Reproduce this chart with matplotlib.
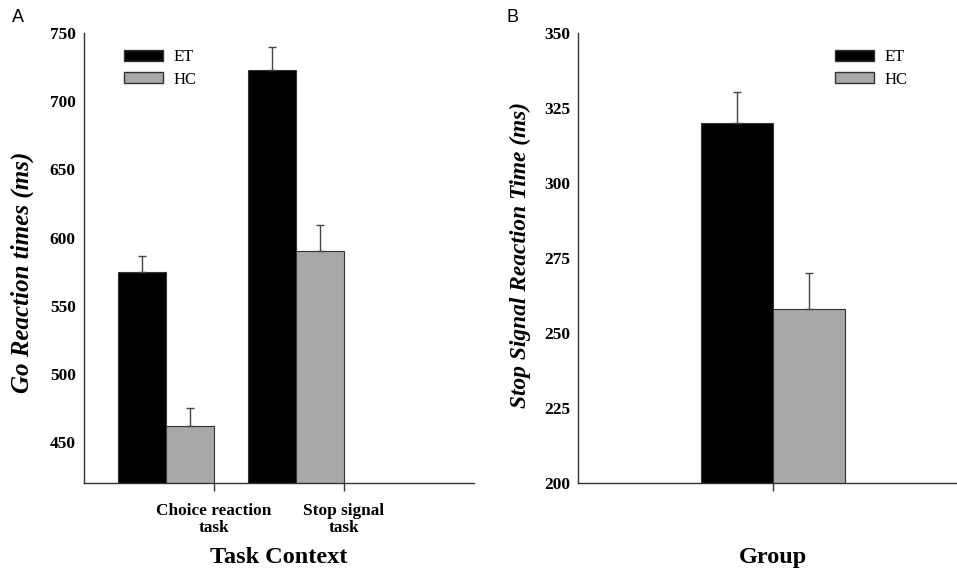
import matplotlib
matplotlib.use('Agg')
import matplotlib.pyplot as plt
from matplotlib.patches import Patch
import numpy as np

# panel A data
tasks = ['Choice reaction\ntask', 'Stop signal\ntask']
go_et = [575, 723]
go_et_err = [11.5, 16.5]
go_hc = [461.5, 590.5]
go_hc_err = [13.5, 19]

# panel B data
ssrt_et = [320]
ssrt_et_err = [10.5]
ssrt_hc = [258]
ssrt_hc_err = [12]

ET_COLOR = 'black'
HC_COLOR = '#a8a8a8'
EDGE = '#333333'
SERIF = 'Liberation Serif'
W = 0.369

fig = plt.figure(figsize=(9.57, 5.72), dpi=100)
axA = fig.add_axes([84/957, 1-483/572, 390/957, 450/572])
axB = fig.add_axes([578.3/957, 1-483/572, 390/957, 450/572])


def draw(ax, et, et_err, hc, hc_err, off):
    # off = where the ET bar starts, relative to the category tick
    x = np.arange(1, len(et) + 1)
    ax.bar(x + off, et, W, align='edge', color=ET_COLOR, edgecolor=EDGE, linewidth=0.8)
    ax.bar(x + off + W, hc, W, align='edge', color=HC_COLOR, edgecolor=EDGE, linewidth=0.8)
    ax.errorbar(x + off + 0.5*W, et, yerr=[np.zeros(len(et)), et_err], fmt='none',
                ecolor='#444444', elinewidth=1, capsize=3.2, capthick=1)
    ax.errorbar(x + off + 1.5*W, hc, yerr=[np.zeros(len(hc)), hc_err], fmt='none',
                ecolor='#444444', elinewidth=1, capsize=3.2, capthick=1)
    for s in ['top', 'right']:
        ax.spines[s].set_visible(False)
    for s in ['left', 'bottom']:
        ax.spines[s].set_color('#333333')
        ax.spines[s].set_linewidth(1)
    ax.tick_params(axis='y', length=0, pad=6)
    ax.tick_params(axis='x', length=5.5, width=1, color='#333333', direction='out', pad=9)
    return x


def style_yticks(ax):
    for lab in ax.get_yticklabels():
        lab.set_fontfamily(SERIF)
        lab.set_fontweight('bold')
        lab.set_fontsize(12.5)


xa = draw(axA, go_et, go_et_err, go_hc, go_hc_err, -2*W)
axA.set_xlim(0, 3)
axA.set_ylim(420, 750)
axA.set_yticks([450, 500, 550, 600, 650, 700, 750])
axA.set_xticks(xa)
axA.set_xticklabels(tasks, fontfamily=SERIF, fontweight='bold', fontsize=12.4, linespacing=1.1)
style_yticks(axA)
axA.set_ylabel('Go Reaction times (ms)', fontfamily=SERIF, fontweight='bold',
               fontstyle='italic', fontsize=18)
axA.yaxis.set_label_coords(-0.128, 0.469)
axA.set_xlabel('Task Context', fontfamily=SERIF, fontweight='bold', fontsize=17.5)
axA.xaxis.set_label_coords(0.5, -0.143)

xb = draw(axB, ssrt_et, ssrt_et_err, ssrt_hc, ssrt_hc_err, -W)
axB.set_xlim(0, 2)
axB.set_ylim(200, 350)
axB.set_yticks([200, 225, 250, 275, 300, 325, 350])
axB.set_xticks(xb)
axB.set_xticklabels([''])
style_yticks(axB)
axB.set_ylabel('Stop Signal Reaction Time (ms)', fontfamily=SERIF, fontweight='bold',
               fontstyle='italic', fontsize=16.8)
axB.yaxis.set_label_coords(-0.122, 0.506)
axB.set_xlabel('Group', fontfamily=SERIF, fontweight='bold', fontsize=17.5)
axB.xaxis.set_label_coords(0.5, -0.143)

handles = [Patch(facecolor=ET_COLOR, edgecolor=EDGE, label='ET'),
           Patch(facecolor=HC_COLOR, edgecolor=EDGE, label='HC')]
for ax, xl in [(axA, 124), (axB, 835)]:
    ax.legend(handles=handles, loc='upper left', bbox_to_anchor=(xl/957, 1-49/572),
              bbox_transform=fig.transFigure, frameon=False, borderpad=0, borderaxespad=0,
              handlelength=2.35, handleheight=0.66, handletextpad=0.6, labelspacing=0.4,
              prop={'family': SERIF, 'size': 12})

fig.text(12/957, 1-18/572, 'A', fontfamily='Liberation Sans', fontsize=13, va='center', ha='left')
fig.text(507/957, 1-18/572, 'B', fontfamily='Liberation Sans', fontsize=13, va='center', ha='left')

fig.savefig('out.png', dpi=100)
